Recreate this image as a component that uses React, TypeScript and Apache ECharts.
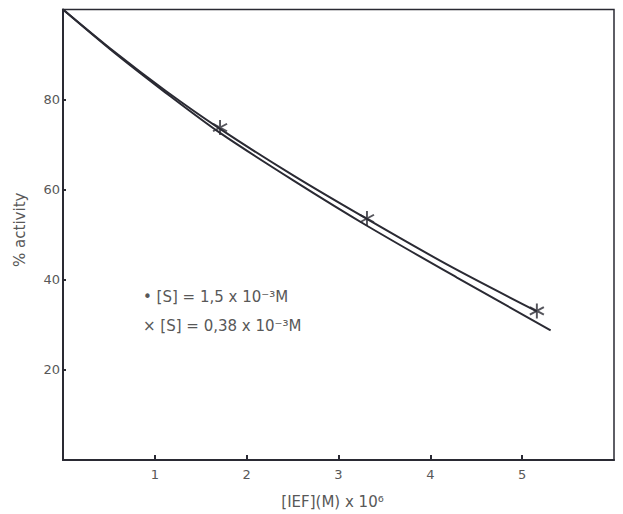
import React, { useEffect, useRef } from "react";
import * as echarts from "echarts";

// Upper curve (× series, [S] = 0,38 x 10⁻³M)
const xUpper = [0, 0.56, 1.12, 1.71, 2.52, 3.31, 4.2, 5.16];
const yUpper = [100, 90.6, 81.9, 73.5, 63.0, 53.5, 43.2, 33.0];
// Lower curve (• series, [S] = 1,5 x 10⁻³M)
const xLower = [0, 0.56, 1.12, 1.71, 2.52, 3.31, 4.29, 5.31];
const yLower = [100, 90.4, 81.5, 72.6, 61.9, 52.0, 40.5, 28.8];
// Star (×) markers
const xStars = [1.71, 3.31, 5.16];
const yStars = [73.8, 53.6, 33.1];

const xTicks = [1, 2, 3, 4, 5];
const yTicks = [20, 40, 60, 80];

const legendLines = ["• [S] = 1,5 x 10⁻³M", "× [S] = 0,38 x 10⁻³M"];

const INK = "#2a2a33";
const TEXT = "#585858";
const FONT = "DejaVu Sans, sans-serif";

const STAR =
  "path://M-1.2,-10L1.2,-10L1.2,10L-1.2,10Z" +
  "M8.06,6.04L-9.26,-3.96L-8.06,-6.04L9.26,3.96Z" +
  "M-9.26,3.96L8.06,-6.04L9.26,-3.96L-8.06,6.04Z";

export default function App() {
  const ref = useRef<HTMLDivElement>(null);
  useEffect(() => {
    document.body.style.margin = "0";
    const chart = echarts.init(ref.current!, null, { renderer: "svg" });
    const zip = (xs: number[], ys: number[]) => xs.map((x, i) => [x, ys[i]]);
    chart.setOption({
      animation: false,
      backgroundColor: "#ffffff",
      grid: {
        left: 63,
        right: 9,
        top: 9.5,
        bottom: 50,
        show: true,
        borderColor: INK,
        borderWidth: 1.5,
      },
      xAxis: {
        type: "value",
        min: 0,
        max: 6,
        interval: 1,
        splitLine: { show: false },
        axisLine: { show: true, lineStyle: { color: INK, width: 2 } },
        axisTick: {
          show: true,
          inside: true,
          length: 5,
          customValues: xTicks,
          lineStyle: { color: INK, width: 2 },
        },
        axisLabel: {
          customValues: xTicks,
          margin: 8,
          color: TEXT,
          fontSize: 13,
          fontFamily: FONT,
        },
        name: "[IEF](M) x 10⁶",
        nameLocation: "middle",
        nameGap: 34,
        nameTextStyle: {
          color: TEXT,
          fontSize: 15,
          fontFamily: FONT,
          padding: [0, 12, 0, 0],
        },
      },
      yAxis: {
        type: "value",
        min: 0,
        max: 100,
        interval: 20,
        splitLine: { show: false },
        axisLine: { show: true, lineStyle: { color: INK, width: 2 } },
        axisTick: {
          show: true,
          inside: true,
          length: 3,
          customValues: yTicks,
          lineStyle: { color: INK, width: 2 },
        },
        axisLabel: {
          customValues: yTicks,
          margin: 3,
          color: TEXT,
          fontSize: 13,
          fontFamily: FONT,
        },
        name: "% activity",
        nameLocation: "middle",
        nameGap: 36,
        nameTextStyle: {
          color: TEXT,
          fontSize: 15,
          fontFamily: FONT,
          padding: [0, 0, 0, 10],
        },
      },
      series: [
        {
          name: "[S] = 1,5 x 10⁻³M",
          type: "line",
          data: zip(xLower, yLower),
          smooth: 0.3,
          showSymbol: false,
          lineStyle: { color: INK, width: 2 },
        },
        {
          name: "[S] = 0,38 x 10⁻³M",
          type: "line",
          data: zip(xUpper, yUpper),
          smooth: 0.3,
          showSymbol: false,
          lineStyle: { color: INK, width: 2 },
        },
        {
          name: "× points",
          type: "scatter",
          data: zip(xStars, yStars),
          symbol: STAR,
          symbolSize: 15,
          itemStyle: { color: INK },
          z: 5,
        },
      ],
      graphic: legendLines.map((t, i) => ({
        type: "text",
        left: 143,
        top: 289 + i * 29,
        style: { text: t, fill: TEXT, fontSize: 15, fontFamily: FONT },
      })),
    });
    return () => chart.dispose();
  }, []);
  return <div ref={ref} style={{ width: 623, height: 514 }} />;
}
